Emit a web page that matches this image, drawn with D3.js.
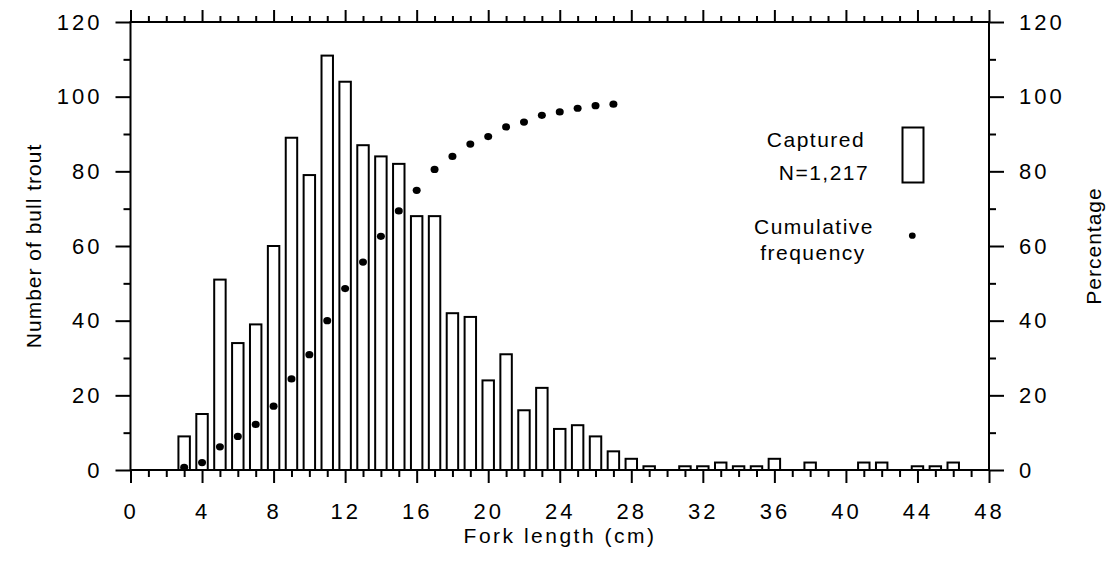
<!DOCTYPE html>
<html><head><meta charset="utf-8">
<script src="https://cdn.jsdelivr.net/npm/d3@7"></script>
<style>
html,body{margin:0;padding:0;background:#fff;}
svg{display:block;font-family:"Liberation Sans",Arial,sans-serif;}
.num{font-size:22px;letter-spacing:3px;}
</style></head>
<body>
<svg id="chart" width="1110" height="578"></svg>
<script>
// ---- data ----
const lengths = [3,4,5,6,7,8,9,10,11,12,13,14,15,16,17,18,19,20,21,22,23,24,25,26,27,28,29,31,32,33,34,35,36,38,41,42,44,45,46];
const counts  = [9,15,51,34,39,60,89,79,111,104,87,84,82,68,68,42,41,24,31,16,22,11,12,9,5,3,1,1,1,2,1,1,3,2,2,2,1,1,2];
const cumLengths = [3,4,5,6,7,8,9,10,11,12,13,14,15,16,17,18,19,20,21,22,23,24,25,26,27];
const cumPercent = [0.7,2.0,6.2,9.0,12.2,17.1,24.4,30.9,40.0,48.6,55.7,62.6,69.4,74.9,80.5,84.0,87.3,89.3,91.9,93.2,95.0,95.9,96.9,97.6,98.0];
const xMajorTicks = [0,4,8,12,16,20,24,28,32,36,40,44,48];
const yMajorTicks = [0,20,40,60,80,100,120];
const xTitle = "Fork length (cm)";
const yTitle = "Number of bull trout";
const y2Title = "Percentage";
const legendBarLines = ["Captured","N=1,217"];
const legendDotLines = ["Cumulative","frequency"];

const svg = d3.select("#chart");
const x = d3.scaleLinear().domain([0,48]).range([130.5,989]);
const y = d3.scaleLinear().domain([0,120]).range([470,22]);
const y2 = d3.scaleLinear().domain([0,120]).range([470,22]);

const allX = d3.range(0,49);
const xMinor = allX.filter(v => v % 4 !== 0);
const yMinor = d3.range(10,120,20);
const tf = '"Liberation Sans",Arial,sans-serif';

function styleAxis(g){
  g.attr("font-size",null).attr("font-family",null);
  g.select(".domain").remove();
  g.selectAll("line").attr("stroke","#000").attr("stroke-width",2);
  g.selectAll("text").attr("class","num").attr("fill","#000")
    .style("font-size","22px").style("letter-spacing","3px").style("font-family",tf);
}

// bars
const bw = 0.64;
svg.append("g").selectAll("rect").data(lengths).join("rect")
  .attr("x", (d) => x(d - bw/2))
  .attr("width", (d) => x(d + bw/2) - x(d - bw/2))
  .attr("y", (d,i) => y(counts[i]))
  .attr("height", (d,i) => y(0) - y(counts[i]))
  .attr("fill","#fff").attr("stroke","#000").attr("stroke-width",2);

// axes
svg.append("g").attr("transform","translate(0,470)")
  .call(d3.axisBottom(x).tickValues(xMajorTicks).tickSize(13).tickPadding(20).tickFormat(d3.format("d")))
  .call(styleAxis);
svg.append("g").attr("transform","translate(0,470)")
  .call(d3.axisBottom(x).tickValues(xMinor).tickSize(7).tickFormat(""))
  .call(styleAxis);
svg.append("g").attr("transform","translate(0,22)")
  .call(d3.axisTop(x).tickValues(xMajorTicks).tickSize(12).tickFormat(""))
  .call(styleAxis);
svg.append("g").attr("transform","translate(0,22)")
  .call(d3.axisTop(x).tickValues(xMinor).tickSize(6).tickFormat(""))
  .call(styleAxis);
svg.append("g").attr("transform","translate(130.5,0)")
  .call(d3.axisLeft(y).tickValues(yMajorTicks).tickSize(15).tickPadding(13).tickFormat(d3.format("d")))
  .call(styleAxis);
svg.append("g").attr("transform","translate(130.5,0)")
  .call(d3.axisLeft(y).tickValues(yMinor).tickSize(7).tickFormat(""))
  .call(styleAxis);
svg.append("g").attr("transform","translate(989,0)")
  .call(d3.axisRight(y2).tickValues(yMajorTicks).tickSize(15).tickPadding(15).tickFormat(d3.format("d")))
  .call(styleAxis);
svg.append("g").attr("transform","translate(989,0)")
  .call(d3.axisRight(y2).tickValues(yMinor).tickSize(7).tickFormat(""))
  .call(styleAxis);

// frame
svg.append("rect").attr("x",x(0)).attr("y",y(120))
  .attr("width",x(48)-x(0)).attr("height",y(0)-y(120))
  .attr("fill","none").attr("stroke","#000").attr("stroke-width",2);

// cumulative dots
svg.append("g").selectAll("ellipse").data(cumLengths).join("ellipse")
  .attr("cx", d => x(d)).attr("cy",(d,i) => y2(cumPercent[i]))
  .attr("rx",4).attr("ry",3.6).attr("fill","#000");

// titles
svg.append("text").attr("x",560).attr("y",543).attr("text-anchor","middle")
  .style("font-size","21px").style("letter-spacing","2.5px").style("font-family",tf).text(xTitle);
svg.append("text").attr("transform","translate(41,246) rotate(-90)").attr("text-anchor","middle")
  .style("font-size","21px").style("letter-spacing","1px").style("font-family",tf).text(yTitle);
svg.append("text").attr("transform","translate(1101,246) rotate(-90)").attr("text-anchor","middle")
  .style("font-size","21px").style("letter-spacing","1px").style("font-family",tf).text(y2Title);

// legend
const lg = svg.append("g").style("font-family",tf).style("font-size","21px").style("letter-spacing","1.5px");
lg.append("text").attr("x",816).attr("y",147).attr("text-anchor","middle").text(legendBarLines[0]);
lg.append("text").attr("x",824).attr("y",180).attr("text-anchor","middle").text(legendBarLines[1]);
lg.append("text").attr("x",814).attr("y",234).attr("text-anchor","middle").text(legendDotLines[0]);
lg.append("text").attr("x",813).attr("y",260).attr("text-anchor","middle").text(legendDotLines[1]);
svg.append("rect").attr("x",902.5).attr("y",127.5).attr("width",21).attr("height",55)
  .attr("fill","#fff").attr("stroke","#000").attr("stroke-width",2);
svg.append("ellipse").attr("cx",912.3).attr("cy",235.7).attr("rx",3.4).attr("ry",3.1).attr("fill","#000");
</script>
</body></html>
